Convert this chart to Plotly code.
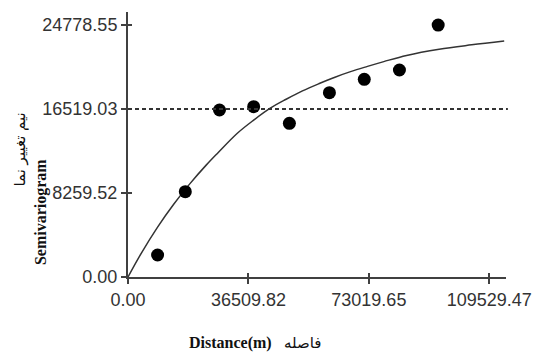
import plotly.graph_objects as go

# Empirical semivariogram points (lag distance, semivariance)
lag_distance = [8970, 17375, 27735, 38095, 48930, 61065, 71630, 82290, 94040]
semivariance = [2163, 8388, 16421, 16746, 15114, 18122, 19440, 20354, 24779]

# Fitted model curve
model_x = [0, 4055, 8970, 13910, 18855, 23770, 27230, 33150, 38100, 43010, 47950,
           52895, 57810, 62750, 67700, 72610, 77550, 84450, 94330, 104190, 114050]
model_y = [0, 2352, 4908, 7180, 9207, 11026, 12202, 14140, 15430, 16580, 17480,
           18300, 19000, 19650, 20220, 20710, 21180, 21790, 22400, 22830, 23210]

sill = 16519.03

x_ticks = [0.00, 36509.82, 73019.65, 109529.47]
x_tick_labels = ["0.00", "36509.82", "73019.65", "109529.47"]
y_ticks = [0.00, 8259.52, 16519.03, 24778.55]
y_tick_labels = ["0.00", "8259.52", "16519.03", "24778.55"]

x_range = [0, 114600]
y_range = [0, 26060]

axis_color = "#404040"
text_color = "#333333"

fig = go.Figure()
fig.add_trace(go.Scatter(x=model_x, y=model_y, mode="lines",
                         line=dict(color="#333333", width=1.5, shape="spline"),
                         hoverinfo="skip", showlegend=False))
fig.add_trace(go.Scatter(x=lag_distance, y=semivariance, mode="markers",
                         marker=dict(color="black", size=13),
                         showlegend=False))
# invisible trace so the overlay axes (inner half of the crossing ticks) are drawn
fig.add_trace(go.Scatter(x=[x_range[0]], y=[y_range[0]], xaxis="x2", yaxis="y2",
                         mode="markers", marker=dict(opacity=0),
                         showlegend=False, hoverinfo="skip"))

fig.add_shape(type="line", xref="x domain", yref="y", x0=0, x1=1.005,
              y0=sill, y1=sill, line=dict(color="#333333", width=2, dash="4px,3px"))

common_axis = dict(showgrid=False, zeroline=False, showline=True,
                   linecolor=axis_color, linewidth=2, ticks="outside",
                   ticklen=5, tickwidth=1.5, tickcolor=axis_color,
                   tickfont=dict(family="Liberation Sans, Arial", size=18, color=text_color))

fig.update_layout(
    width=543, height=353,
    margin=dict(l=128, r=28, t=12, b=76),
    paper_bgcolor="white", plot_bgcolor="white",
    xaxis=dict(range=x_range, tickvals=x_ticks, ticktext=x_tick_labels, **common_axis),
    yaxis=dict(range=y_range, tickvals=y_ticks, ticktext=y_tick_labels, **common_axis),
    xaxis2=dict(range=x_range, overlaying="x", side="bottom", tickvals=x_ticks,
                showticklabels=False, ticks="inside", ticklen=4, tickwidth=1.5,
                tickcolor=axis_color, showgrid=False, zeroline=False, showline=False),
    yaxis2=dict(range=y_range, overlaying="y", side="left", tickvals=y_ticks,
                showticklabels=False, ticks="inside", ticklen=4, tickwidth=1.5,
                tickcolor=axis_color, showgrid=False, zeroline=False, showline=False),
)

title_font = dict(family="Liberation Serif, Times New Roman", size=16, color="#111111")
arabic_font = dict(family="DejaVu Sans", size=15, color="#111111")

fig.add_annotation(text="<b>Distance(m)</b>", xref="paper", yref="paper",
                   x=(233 - 128) / 387, y=-(343 - 277) / 265, showarrow=False,
                   font=title_font, xanchor="center", yanchor="middle")
fig.add_annotation(text="فاصله", xref="paper", yref="paper",
                   x=(307 - 128) / 387, y=-(343 - 277) / 265, showarrow=False,
                   font=arabic_font, xanchor="center", yanchor="middle")
fig.add_annotation(text="<b>Semivariogram</b>", xref="paper", yref="paper",
                   x=-(128 - 39) / 387, y=(277 - 212) / 265, showarrow=False,
                   textangle=-90, font=title_font, xanchor="center", yanchor="middle")
fig.add_annotation(text="نیم تغییر نما", xref="paper", yref="paper",
                   x=-(128 - 17) / 387, y=(277 - 150) / 265, showarrow=False,
                   textangle=-90, font=arabic_font, xanchor="center", yanchor="middle")

fig.write_html("out.html")
